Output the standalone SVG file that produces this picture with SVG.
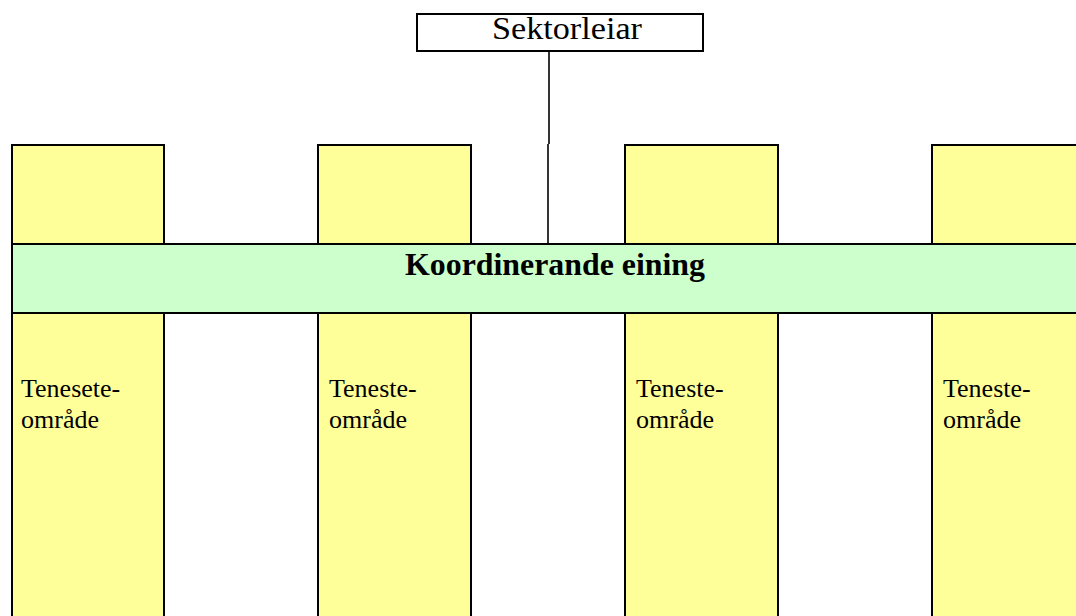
<svg xmlns="http://www.w3.org/2000/svg" width="1076" height="616" viewBox="0 0 1076 616">
  <style>
    .box { fill: #ffff99; stroke: #000; stroke-width: 2; }
    .band { fill: #ccffcc; stroke: #000; stroke-width: 2; }
    .head { fill: #fff; stroke: #000; stroke-width: 2; }
    .link { fill: none; stroke: #000; stroke-width: 1.6; }
    .t { font-family: "Liberation Serif", "Times New Roman", serif; fill: #000; }
    .lbl { font-size: 26px; }
  </style>
  <rect width="1076" height="616" fill="#fff"/>

  <!-- connector from the sector head down to the coordinating band -->
  <g id="connectors">
    <path class="link" d="M549 51 V144"/>
    <path class="link" d="M548 144 V244"/>
  </g>

  <g id="sektorleiar">
    <rect class="head" x="417" y="14" width="286" height="37"/>
    <text class="t" x="492" y="39" font-size="31" textLength="150" lengthAdjust="spacingAndGlyphs">Sektorleiar</text>
  </g>

  <!-- upper parts of the four service columns -->
  <g id="col1-top"><rect class="box" x="12" y="145" width="152" height="99"/></g>
  <g id="col2-top"><rect class="box" x="318" y="145" width="153" height="99"/></g>
  <g id="col3-top"><rect class="box" x="625" y="145" width="153" height="99"/></g>
  <g id="col4-top"><rect class="box" x="932" y="145" width="160" height="99"/></g>

  <!-- lower parts of the columns with their labels -->
  <g id="col1">
    <rect class="box" x="12" y="313" width="152" height="320"/>
    <text class="t lbl" x="21" y="397">Tenesete-</text>
    <text class="t lbl" x="21" y="428">område</text>
  </g>
  <g id="col2">
    <rect class="box" x="318" y="313" width="153" height="320"/>
    <text class="t lbl" x="329" y="397">Teneste-</text>
    <text class="t lbl" x="329" y="428">område</text>
  </g>
  <g id="col3">
    <rect class="box" x="625" y="313" width="153" height="320"/>
    <text class="t lbl" x="636" y="397">Teneste-</text>
    <text class="t lbl" x="636" y="428">område</text>
  </g>
  <g id="col4">
    <rect class="box" x="932" y="313" width="160" height="320"/>
    <text class="t lbl" x="943" y="397">Teneste-</text>
    <text class="t lbl" x="943" y="428">område</text>
  </g>

  <g id="koordinerande">
    <rect class="band" x="12" y="244" width="1080" height="69"/>
    <text class="t" x="405" y="275" font-size="31" font-weight="bold" textLength="300" lengthAdjust="spacingAndGlyphs">Koordinerande eining</text>
  </g>
</svg>
